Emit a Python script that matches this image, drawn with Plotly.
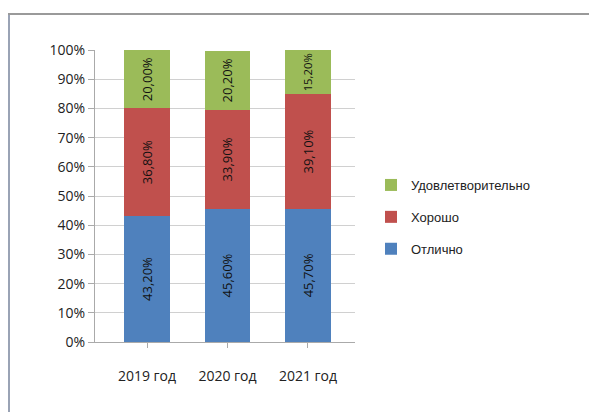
import plotly.graph_objects as go

categories = ["2019 год", "2020 год", "2021 год"]
otlichno = [43.2, 45.6, 45.7]
khorosho = [36.8, 33.9, 39.1]
udovl = [20.0, 20.2, 15.2]
tick_vals = [0, 10, 20, 30, 40, 50, 60, 70, 80, 90, 100]
tick_text = [f"{v}%" for v in tick_vals]

series = [
    ("Отлично", otlichno, "#4F81BD", 3),
    ("Хорошо", khorosho, "#C0504D", 2),
    ("Удовлетворительно", udovl, "#9BBB59", 1),
]

fig = go.Figure()
for name, vals, color, rank in series:
    fig.add_trace(go.Bar(
        x=categories, y=vals, name=name, legendgroup=name, legendrank=rank,
        marker=dict(color=color, line=dict(color=color, width=0)),
        texttemplate="%{y:.2f}%", textposition="inside", insidetextanchor="middle",
        textangle=-90, textfont=dict(family="Open Sans", size=13, color="#111"),
        hoverinfo="skip",
    ))

W, H = 597, 412
L, T = 87, 42
pw, ph = 260, 292
R = W - L - pw
B = H - T - ph

fig.update_layout(
    width=W, height=H, barmode="stack", bargap=0.44,
    separators=", ",
    paper_bgcolor="white", plot_bgcolor="white",
    margin=dict(l=L, r=R, t=T, b=B),
    font=dict(family="Open Sans", size=14, color="#222"),
    showlegend=True,
    legend=dict(
        x=(363 - L) / pw, y=1 - (162 - T) / ph, xanchor="left", yanchor="top",
        traceorder="grouped", tracegroupgap=12,
        font=dict(family="Liberation Sans", size=13, color="#222"),
        bgcolor="rgba(0,0,0,0)",
    ),
    xaxis=dict(
        range=[-0.646, 2.584],
        showgrid=False, showline=True, linecolor="#aaa", linewidth=1,
        ticks="outside", ticklen=5, tickcolor="#aaa", ticklabelstandoff=16,
        tickfont=dict(family="Open Sans", size=14, color="#222"),
    ),
    yaxis=dict(
        range=[0, 100], tickmode="array", tickvals=tick_vals, ticktext=tick_text,
        showgrid=True, gridcolor="#d0d0d0", gridwidth=1,
        showline=True, linecolor="#aaa", linewidth=1,
        ticks="outside", ticklen=6, tickcolor="#aaa",
        tickfont=dict(family="Open Sans", size=14, color="#222"),
        zeroline=False,
    ),
    shapes=[
        dict(type="line", xref="paper", yref="paper",
             x0=(1 - L) / pw, x1=(1 - L) / pw, y0=-(B + 10) / ph, y1=1 + (T - 6) / ph,
             line=dict(color="#9aa3b5", width=2)),
        dict(type="line", xref="paper", yref="paper",
             x0=(0 - L) / pw, x1=(W - L) / pw, y0=1 + (T - 6) / ph, y1=1 + (T - 6) / ph,
             line=dict(color="#9a9a9a", width=2)),
    ],
)

fig.write_html("out.html")
